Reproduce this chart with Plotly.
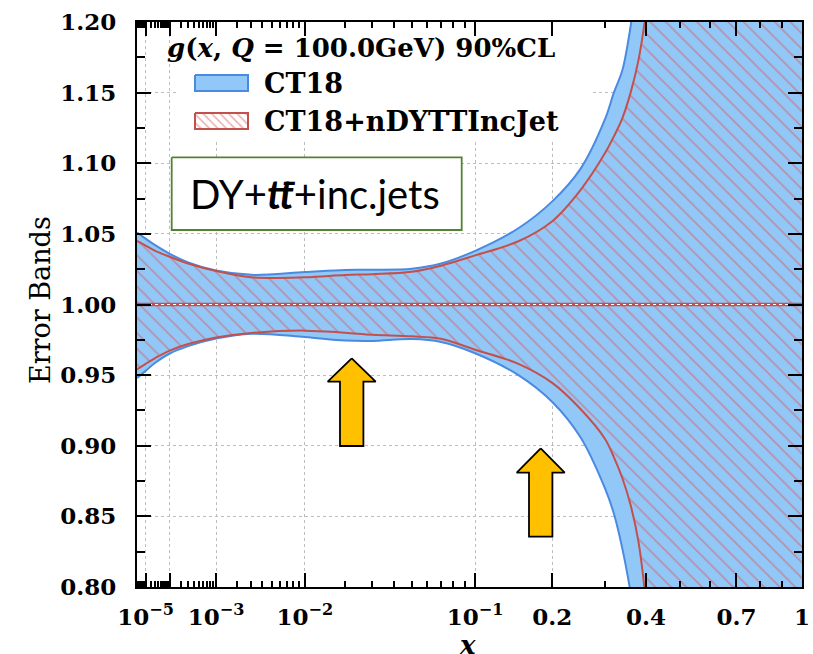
import numpy as np
import plotly.graph_objects as go

# ---------------- data ----------------
X = [2.44e-6, 1e-5, 3e-5, 1e-4, 3e-4, 1e-3, 3e-3, 1e-2, 2e-2, 3e-2, 5e-2, 7e-2,
     0.1, 0.15, 0.2, 0.25, 0.3, 0.32, 0.34, 0.36, 0.38, 0.4, 0.42, 0.45, 0.5, 0.6, 0.8, 1.0]
CT18_UP = [1.051, 1.0466, 1.042, 1.0359, 1.0298, 1.024, 1.021, 1.023, 1.0245, 1.0246,
           1.0253, 1.029, 1.038, 1.054, 1.073, 1.096, 1.131, 1.150, 1.166, 1.197, 1.237,
           1.28, 1.33, 1.40, 1.5, 1.8, 2.3, 2.6]
CT18_LO = [0.948, 0.953, 0.9588, 0.9653, 0.9705, 0.9759, 0.9793, 0.977, 0.9745, 0.9742,
           0.9755, 0.9735, 0.9655, 0.950, 0.931, 0.906, 0.870, 0.852, 0.827, 0.796, 0.758,
           0.71, 0.65, 0.55, 0.4, 0.1, -0.3, -0.5]
NEW_UP = [1.045, 1.0417, 1.038, 1.0338, 1.029, 1.0237, 1.0193, 1.0193, 1.0209, 1.0215,
          1.0232, 1.0275, 1.0348, 1.0448, 1.059, 1.081, 1.107, 1.119, 1.132, 1.150, 1.173,
          1.207, 1.25, 1.33, 1.45, 1.7, 2.2, 2.5]
NEW_LO = [0.954, 0.958, 0.9621, 0.9674, 0.972, 0.9767, 0.9799, 0.9815, 0.980, 0.9786,
          0.9775, 0.9757, 0.968, 0.958, 0.9445, 0.926, 0.905, 0.892, 0.877, 0.858, 0.832,
          0.788, 0.72, 0.62, 0.45, 0.15, -0.3, -0.5]
CENTRAL = [1.0] * len(X)

X_MAJOR = [1e-5, 1e-4, 1e-3, 1e-2, 1e-1, 0.2, 0.4, 0.7, 1.0]
X_MAJOR_TEXT = ["10<sup>\u22125</sup>", "", "10<sup>\u22123</sup>", "10<sup>\u22122</sup>",
                "10<sup>\u22121</sup>", "0.2", "0.4", "0.7", "1"]
X_MINOR = [k * 10.0 ** d for d in range(-6, -1) for k in range(2, 10)] + [0.3, 0.5, 0.6, 0.8, 0.9]
X_MIN, X_MAX = 2.44e-6, 1.0
Y_MIN, Y_MAX = 0.80, 1.20

LEGEND_TITLE = "<b><i>g</i>(<i>x</i>, <i>Q</i> = 100.0GeV) 90%CL</b>"
LEGEND_NAMES = ["<b>CT18</b>", "<b>CT18+nDYTTIncJet</b>"]
BOX_TEXT = "DY+<b><i>t</i></b><b><i>t\u0304</i></b>+inc.jets"

# ---------------- style ----------------
P = 0.283  # x-axis scale: position ~ x**P


def T(v):
    return (np.asarray(v, dtype=float)) ** P


BLUE_FILL = "#92c8f8"
BLUE_LINE = "#4a8ae0"
RED_LINE = "#c4504c"
HATCH = "#dc5858"
SERIF = "DejaVu Serif"

W, H = 813, 654
L, R, TOP, BOT = 137, 802, 22, 587   # plot frame in screenshot pixels

fig = go.Figure()

xs = T(X)
poly_x = np.concatenate([xs, xs[::-1]])
SPL = dict(shape="spline", smoothing=1.0)

# CT18 band
fig.add_trace(go.Scatter(x=poly_x, y=np.concatenate([CT18_UP, CT18_LO[::-1]]),
                         fill="toself", fillcolor=BLUE_FILL, mode="lines",
                         line=dict(width=0, **SPL), hoverinfo="skip", showlegend=False))
for yy in (CT18_UP, CT18_LO):
    fig.add_trace(go.Scatter(x=xs, y=yy, mode="lines",
                             line=dict(color=BLUE_LINE, width=2, **SPL),
                             hoverinfo="skip", showlegend=False))

# CT18+nDYTTIncJet hatched band
fig.add_trace(go.Scatter(x=poly_x, y=np.concatenate([NEW_UP, NEW_LO[::-1]]),
                         fill="toself", fillcolor="rgba(0,0,0,0)", mode="lines",
                         fillpattern=dict(shape="\\", fgcolor=HATCH, bgcolor="rgba(0,0,0,0)",
                                          size=11, solidity=0.16),
                         line=dict(width=0, **SPL), hoverinfo="skip", showlegend=False))
for yy in (NEW_UP, NEW_LO):
    fig.add_trace(go.Scatter(x=xs, y=yy, mode="lines",
                             line=dict(color=RED_LINE, width=2, **SPL),
                             hoverinfo="skip", showlegend=False))

# central line
fig.add_trace(go.Scatter(x=xs, y=CENTRAL, mode="lines",
                         line=dict(color=RED_LINE, width=3.5), hoverinfo="skip", showlegend=False))
fig.add_trace(go.Scatter(x=xs, y=CENTRAL, mode="lines",
                         line=dict(color="white", width=1.2, dash="dot"),
                         hoverinfo="skip", showlegend=False))


# ---------------- decorations in screenshot-pixel coordinates (overlay axes) ----------------
def rect_trace(x0, x1, y0, y1, fill, line_color, line_width, pattern=None):
    return go.Scatter(x=[x0, x1, x1, x0, x0], y=[y0, y0, y1, y1, y0], xaxis="x2", yaxis="y2",
                      fill="toself", fillcolor=fill, mode="lines",
                      fillpattern=pattern,
                      line=dict(color=line_color, width=line_width),
                      hoverinfo="skip", showlegend=False)


# legend background
fig.add_trace(rect_trace(178, 590, TOP + 1, 142, "white", "rgba(0,0,0,0)", 0))
# legend swatches
fig.add_trace(rect_trace(195, 248, 75, 91, BLUE_FILL, BLUE_LINE, 2))
fig.add_trace(rect_trace(195, 248, 113, 129, "white", RED_LINE, 2,
                         pattern=dict(shape="\\", fgcolor=HATCH, bgcolor="white",
                                      size=6, solidity=0.25)))
# green text box
fig.add_trace(rect_trace(171.7, 461.7, 157.3, 230, "white", "#548235", 1.8))

# yellow block arrows
ARROWS = [(351.7, 358.3, 24, 11.7, 23.4, 446), (540.7, 448.3, 24, 11.7, 24.4, 536.7)]
for tx, ty, hw, sw, hh, by in ARROWS:
    ax = [tx, tx + hw, tx + sw, tx + sw, tx - sw, tx - sw, tx - hw, tx]
    ay = [ty, ty + hh, ty + hh, by, by, ty + hh, ty + hh, ty]
    fig.add_trace(go.Scatter(x=ax, y=ay, xaxis="x2", yaxis="y2", fill="toself",
                             fillcolor="#ffc000", mode="lines",
                             line=dict(color="black", width=1.8),
                             hoverinfo="skip", showlegend=False))

fig.add_annotation(xref="x2", yref="y2", x=165, y=48, text=LEGEND_TITLE, showarrow=False,
                   xanchor="left", yanchor="middle",
                   font=dict(family=SERIF, size=26, color="black"))
fig.add_annotation(xref="x2", yref="y2", x=262, y=83, text=LEGEND_NAMES[0], showarrow=False,
                   xanchor="left", yanchor="middle",
                   font=dict(family=SERIF, size=27, color="black"))
fig.add_annotation(xref="x2", yref="y2", x=262, y=121, text=LEGEND_NAMES[1], showarrow=False,
                   xanchor="left", yanchor="middle",
                   font=dict(family=SERIF, size=27, color="black"))
fig.add_annotation(xref="x2", yref="y2", x=315, y=194, text=BOX_TEXT, showarrow=False,
                   xanchor="center", yanchor="middle",
                   font=dict(family="Lato", size=40, color="black"))

# axis titles
fig.add_annotation(xref="paper", yref="paper", x=(467 - L) / (R - L), y=(BOT - 645) / (BOT - TOP),
                   text="<b><i>x</i></b>", showarrow=False, xanchor="center", yanchor="middle",
                   font=dict(family=SERIF, size=26, color="black"))
fig.add_annotation(xref="paper", yref="paper", x=(40 - L) / (R - L), y=(BOT - 300) / (BOT - TOP),
                   text="Error Bands", showarrow=False, textangle=-90,
                   xanchor="center", yanchor="middle",
                   font=dict(family=SERIF, size=27, color="black"))

tickfont = dict(family=SERIF, size=23, color="black", weight="bold")
fig.update_layout(
    width=W, height=H,
    margin=dict(l=L, r=W - R, t=TOP, b=H - BOT, autoexpand=False),
    paper_bgcolor="white", plot_bgcolor="white",
    showlegend=False,
    xaxis=dict(range=[float(T(X_MIN)), float(T(X_MAX))], tickmode="array",
               tickvals=T(X_MAJOR).tolist(), ticktext=X_MAJOR_TEXT, tickangle=0,
               automargin=False,
               ticks="inside", ticklen=14, tickwidth=2, tickcolor="black",
               showline=True, linewidth=2, linecolor="black", mirror="allticks",
               showgrid=True, gridcolor="#bdbdbd", griddash="dot", gridwidth=1,
               zeroline=False, tickfont=tickfont, ticklabelstandoff=8,
               minor=dict(tickmode="array", tickvals=T(X_MINOR).tolist(), ticks="inside",
                          ticklen=6, tickwidth=1.5, tickcolor="black", showgrid=False)),
    yaxis=dict(range=[Y_MIN, Y_MAX], tickmode="linear", tick0=0.8, dtick=0.05,
               tickformat=".2f", ticks="inside", ticklen=14, tickwidth=2, tickcolor="black",
               automargin=False,
               showline=True, linewidth=2, linecolor="black", mirror="allticks",
               showgrid=True, gridcolor="#bdbdbd", griddash="dot", gridwidth=1,
               zeroline=False, tickfont=tickfont, ticklabelstandoff=14,
               minor=dict(tickmode="linear", tick0=0.8, dtick=0.025, ticks="inside",
                          ticklen=8, tickwidth=1.5, tickcolor="black", showgrid=False)),
    xaxis2=dict(overlaying="x", anchor="y2", range=[L, R], visible=False, fixedrange=True),
    yaxis2=dict(overlaying="y", anchor="x2", range=[BOT, TOP], visible=False, fixedrange=True),
)

fig.write_html("out.html", config={"displayModeBar": False},
               post_script="document.body.style.margin='0';document.body.style.overflow='hidden';")
